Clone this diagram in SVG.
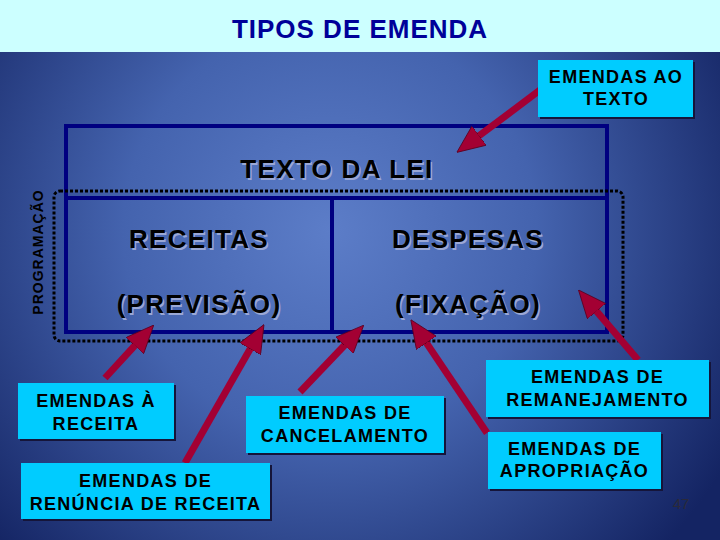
<svg xmlns="http://www.w3.org/2000/svg" width="720" height="540" viewBox="0 0 720 540">
<defs>
<radialGradient id="bg" gradientUnits="userSpaceOnUse" cx="330" cy="230" r="460">
<stop offset="0" stop-color="#5C7DC8"/>
<stop offset="0.45" stop-color="#4463AE"/>
<stop offset="1" stop-color="#142463"/>
</radialGradient>
<marker id="ah" markerUnits="userSpaceOnUse" markerWidth="28" markerHeight="24" refX="4" refY="12" orient="auto">
<path d="M0,0 L28,12 L0,24 Z" fill="#A30033" stroke="#5a0020" stroke-width="0.8"/>
</marker>
<style>
.box{fill:#00CCFF}
.sh{fill:#15153a}
.bt{font-family:"Liberation Sans",Arial,sans-serif;font-weight:bold;font-size:18px;fill:#000;text-anchor:middle;letter-spacing:1.3px}
.mt{font-family:"Liberation Sans",Arial,sans-serif;font-weight:bold;font-size:26px;fill:#000;text-anchor:middle;letter-spacing:1.3px}
.ms{font-family:"Liberation Sans",Arial,sans-serif;font-weight:bold;font-size:26px;fill:#9aa8d6;text-anchor:middle;letter-spacing:1.3px}
.arr{stroke:#A30033;stroke-width:7;fill:none;marker-end:url(#ah)}
</style>
</defs>
<rect x="0" y="0" width="720" height="540" fill="url(#bg)"/>
<rect x="0" y="0" width="720" height="52" fill="#CCFFFF"/>
<text x="360" y="38" font-family="Liberation Sans,Arial,sans-serif" font-weight="bold" font-size="26" fill="#000099" text-anchor="middle" letter-spacing="1">TIPOS DE EMENDA</text>

<g id="lei">
<rect x="66" y="126" width="541" height="206" fill="none" stroke="#000080" stroke-width="4"/>
<line x1="66" y1="198" x2="607" y2="198" stroke="#000080" stroke-width="4"/>
<line x1="332" y1="198" x2="332" y2="332" stroke="#000080" stroke-width="4"/>
<text class="ms" x="338.5" y="179.5">TEXTO DA LEI</text>
<text class="mt" x="337" y="178">TEXTO DA LEI</text>
</g>
<g id="programacao">
<rect x="54" y="191" width="569" height="150" rx="6" fill="none" stroke="#000" stroke-width="3" stroke-dasharray="3,2"/>
<text x="43" y="252" transform="rotate(-90 43 252)" font-family="Liberation Sans,Arial,sans-serif" font-weight="bold" font-size="14" fill="#000" text-anchor="middle" letter-spacing="1">PROGRAMAÇÃO</text>
</g>
<g id="receitas">
<text class="ms" x="200.5" y="249.5">RECEITAS</text>
<text class="mt" x="199" y="248">RECEITAS</text>
<text class="ms" x="200.5" y="314.5">(PREVISÃO)</text>
<text class="mt" x="199" y="313">(PREVISÃO)</text>
</g>
<g id="despesas">
<text class="ms" x="469.5" y="249.5">DESPESAS</text>
<text class="mt" x="468" y="248">DESPESAS</text>
<text class="ms" x="469.5" y="314.5">(FIXAÇÃO)</text>
<text class="mt" x="468" y="313">(FIXAÇÃO)</text>
</g>

<g id="connectors">
<line class="arr" x1="540" y1="90" x2="476" y2="138"/>
<line class="arr" x1="105" y1="378" x2="137.5" y2="342.7"/>
<line class="arr" x1="185" y1="463" x2="252.1" y2="345.4"/>
<line class="arr" x1="300" y1="392" x2="347.2" y2="342.5"/>
<line class="arr" x1="487" y1="433" x2="424.2" y2="339.6"/>
<line class="arr" x1="638" y1="360" x2="594" y2="308.2"/>
</g>

<g id="ao-texto">
<rect class="sh" x="540" y="62" width="155" height="57"/>
<rect class="box" x="538" y="60" width="155" height="57"/>
<text class="bt" x="616" y="83">EMENDAS AO</text>
<text class="bt" x="616" y="105">TEXTO</text>
</g>
<g id="a-receita">
<rect class="sh" x="20" y="385" width="156" height="56"/>
<rect class="box" x="18" y="383" width="156" height="56"/>
<text class="bt" x="96" y="407">EMENDAS À</text>
<text class="bt" x="96" y="430">RECEITA</text>
</g>
<g id="cancelamento">
<rect class="sh" x="248" y="398" width="198" height="57"/>
<rect class="box" x="246" y="396" width="198" height="57"/>
<text class="bt" x="345" y="419">EMENDAS DE</text>
<text class="bt" x="345" y="442">CANCELAMENTO</text>
</g>
<g id="renuncia">
<rect class="sh" x="23" y="465" width="249" height="56"/>
<rect class="box" x="21" y="463" width="249" height="56"/>
<text class="bt" x="145.5" y="487">EMENDAS DE</text>
<text class="bt" x="145.5" y="510">RENÚNCIA DE RECEITA</text>
</g>
<g id="remanejamento">
<rect class="sh" x="488" y="362" width="223" height="57"/>
<rect class="box" x="486" y="360" width="223" height="57"/>
<text class="bt" x="597.5" y="383">EMENDAS DE</text>
<text class="bt" x="597.5" y="406">REMANEJAMENTO</text>
</g>
<g id="apropriacao">
<rect class="sh" x="490" y="434" width="173" height="57"/>
<rect class="box" x="488" y="432" width="173" height="57"/>
<text class="bt" x="574.5" y="455">EMENDAS DE</text>
<text class="bt" x="574.5" y="477">APROPRIAÇÃO</text>
</g>
<text x="681" y="509" font-family="Liberation Sans,Arial,sans-serif" font-size="15" fill="#2a2a3a" text-anchor="middle">47</text>
</svg>
